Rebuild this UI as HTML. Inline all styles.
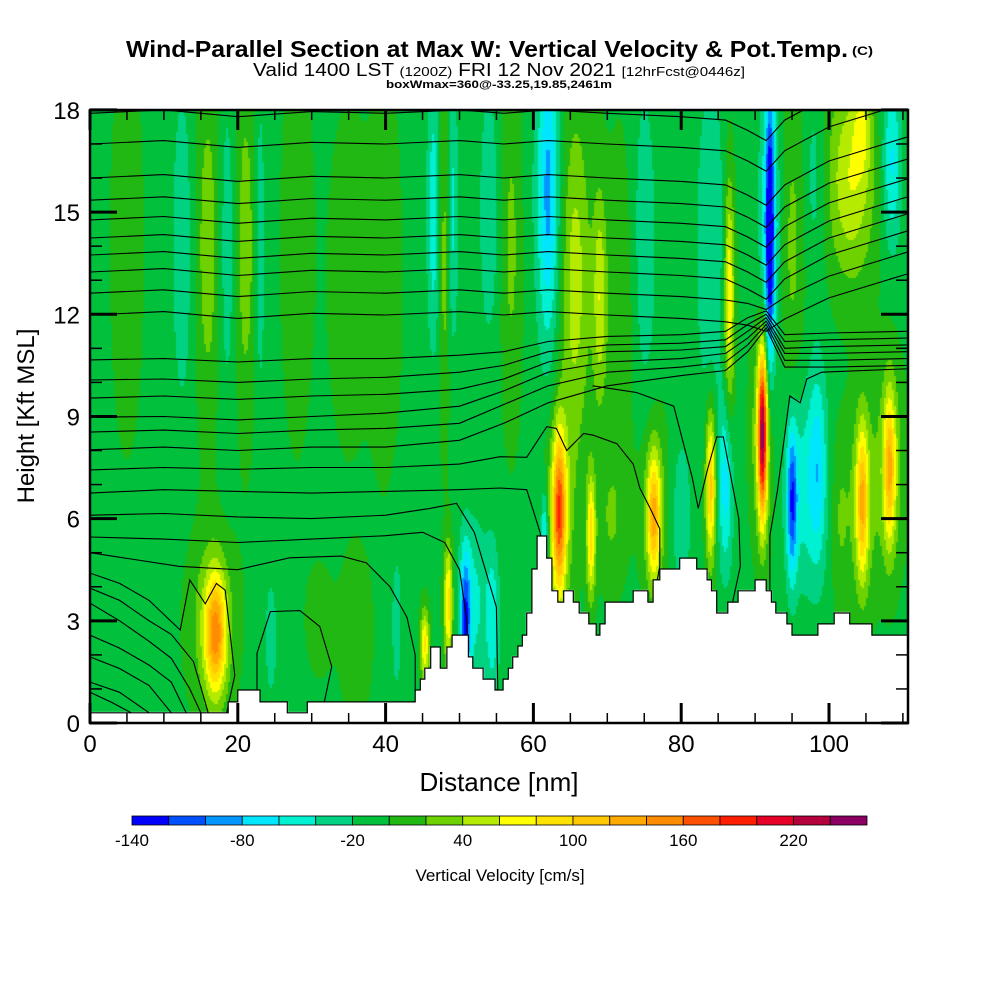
<!DOCTYPE html>
<html><head><meta charset="utf-8"><style>
html,body{margin:0;padding:0;background:#fff;}
#wrap{position:relative;width:1000px;height:1000px;overflow:hidden;font-family:"Liberation Sans",sans-serif;}
canvas{position:absolute;left:90px;top:110px;}
svg{position:absolute;left:0;top:0;}
</style></head><body>
<div id="wrap">
<canvas id="field" width="818" height="613"></canvas>
<svg id="ov" width="1000" height="1000">
<defs><clipPath id="plotclip"><rect x="90" y="110" width="818" height="613"/></clipPath></defs>
<g id="contours" clip-path="url(#plotclip)"></g>
<polygon id="terrain" fill="#fff" stroke="#000" stroke-width="1.2"></polygon>
<rect x="90" y="110" width="818" height="613" fill="none" stroke="#000" stroke-width="2.5"/>
<g id="ticks"></g>
<g id="ylabels" font-size="24" text-anchor="end"></g>
<g id="xlabels" font-size="24" text-anchor="middle"></g>
<text x="499" y="791" font-size="26" text-anchor="middle">Distance [nm]</text>
<text transform="translate(34,416) rotate(-90)" font-size="24" text-anchor="middle">Height [Kft MSL]</text>
<text x="126" y="57" font-size="23" font-weight="bold" textLength="722" lengthAdjust="spacingAndGlyphs">Wind-Parallel Section at Max W: Vertical Velocity &amp; Pot.Temp.</text>
<text x="852" y="55" font-size="12" font-weight="bold" textLength="21" lengthAdjust="spacingAndGlyphs">(C)</text>
<text x="253" y="76" font-size="18" textLength="492" lengthAdjust="spacingAndGlyphs">Valid 1400 LST <tspan font-size="13">(1200Z)</tspan> FRI 12 Nov 2021 <tspan font-size="13">[12hrFcst@0446z]</tspan></text>
<text x="386" y="88" font-size="11" font-weight="bold" textLength="226" lengthAdjust="spacingAndGlyphs">boxWmax=360@-33.25,19.85,2461m</text>
<g id="cbar"></g>
<g id="cblabels" font-size="17" text-anchor="middle"></g>
<text x="500" y="881" font-size="17" text-anchor="middle">Vertical Velocity [cm/s]</text>
</svg>
</div>
<script>
// ---- data ----
const colorBins = ["#0000ff","#0050ff","#0096ff","#00e6ff","#00f0d2","#00d282","#00c03c","#22b814","#6ed200","#b4eb00","#ffff00","#ffe100","#ffc800","#ffaa00","#ff8c00","#ff5000","#ff1e00","#e60028","#b4003c","#8c0064"];
const cbarLabels = [-140,-80,-20,40,100,160,220];
const yTicks = [0,3,6,9,12,15,18];
const xTicks = [0,20,40,60,80,100];
const baseW = -5;
// blobs: x nm, height kft, x-scale nm, y-scale kft, amplitude cm/s
const blobX = [5,12.5,16,18.5,21,23,28,35,40,46.5,49,48,54,62,62,57,65.5,69,75,84,86.5,92,92,95,103,104.5,108.5,98,66,72,
  17,16.5,24.5,31,36,41.5,45.3,48.5,50.8,52,54.5,63.5,63.5,61.5,67.8,70.5,76.3,76.3,80,84,86,91,91,95,96.5,98.5,104.5,104.5,108.2,108.2,101.5];
const blobY = [14,14,14,14,14,14,14,13,13,15,15,14,15,15.5,15.5,14,13,12.5,14,14,12.5,14.5,14.5,14,16,17.5,16.5,16,13,12,
  2.6,3,2.5,3,2.5,3,2.3,3.5,3.0,3.5,3,6.2,6,5.5,5.5,6,6,6.5,6,7,7,8.5,8.5,6.5,7,7.5,6.5,6.5,7.5,7.5,6];
const blobSX = [2.2,1.5,1.7,1.3,1.4,0.7,2.2,2.8,2.2,0.9,0.8,0.8,1.4,1.3,2.3,1.4,1.7,0.9,1.7,2.0,0.7,0.6,1.5,1.7,3.2,1.1,1.3,1.4,3,2,
  1.4,3,0.8,2.2,2.2,0.8,0.6,0.6,0.7,2,0.9,0.9,2,0.5,0.6,1.8,0.9,1.9,1.4,0.7,1.0,0.6,1.4,0.7,2.6,1.2,0.8,1.9,0.8,1.9,1.2];
const blobSY = [6,5,5,5,5,5,6,5,6,4,4,5,4,4.5,4.5,5,5,3,5,5,3.5,4,4.5,5,3,1.3,2.5,3,5,5,
  1.7,2.5,1.8,2,2.5,2.5,1,1.7,2.0,2.5,2.2,2.3,3,1.3,1.8,2,1.8,2.5,2.5,2.2,2.5,2.4,3,2.2,3,3,2.2,3,2.2,3,2.5];
const blobAmp = [15,-30,38,-30,38,-30,15,15,15,-50,-45,40,-30,-60,-25,30,35,55,-30,-35,85,-120,-50,30,65,40,-60,-25,22,20,
  125,40,-30,10,15,-25,90,95,-100,-40,-45,150,40,-70,95,25,105,35,-30,115,-65,200,60,-95,-45,-50,95,40,95,40,25];
// terrain steps: start distance nm, height kft
const terrainX = [0,18.7,20.0,23.0,26.7,29.4,44.0,44.7,45.3,46.1,47.4,48.3,49.0,51.2,51.8,53.2,54.8,55.9,56.6,57.2,57.9,58.5,59.1,59.8,60.5,61.8,62.5,63.3,64.1,65.4,66.2,67.5,68.5,69.0,69.7,73.5,75.5,76.2,77.1,79.8,82.1,83.5,84.1,84.8,86.3,87.7,90.0,91.5,92.2,92.8,94.3,95.0,98.5,100.7,102.8,105.8];
const terrainH = [0.30,0.62,0.97,0.62,0.30,0.62,0.97,1.29,1.61,2.23,1.61,2.23,2.58,1.94,1.61,1.29,0.97,1.29,1.61,1.94,2.26,2.58,3.23,4.52,5.49,4.84,3.88,3.55,3.88,3.55,3.23,2.91,2.58,2.91,3.55,3.88,3.55,4.20,4.52,4.84,4.52,4.20,3.88,3.23,3.55,3.88,4.20,3.88,3.55,3.23,2.91,2.58,2.91,3.23,2.91,2.58];
// theta contours
const knotX = [0,10,20,30,40,50,56,62,70,80,86,89,91.5,94,100,110.5];
const upperBase = [17.9,17.0,16.0,15.35,14.77,14.24,13.74,13.24,12.62,11.98];
const upperWave = [0,0.1,-0.1,0.05,0,0.1,0,0.1,0,-0.1,-0.2,-0.5,-0.8,-0.2,0.5,1.2];
const midLine1 = [10.66,10.7,10.6,10.7,10.7,10.8,10.9,11.2,11.35,11.4,11.5,11.9,12.1,11.4,11.45,11.5];
const midLine2 = [10.07,10.1,10.0,10.1,10.15,10.3,10.5,10.9,11.1,11.15,11.25,11.7,12.0,11.2,11.25,11.3];
const midLine3 = [9.54,9.6,9.5,9.6,9.65,9.8,10.1,10.6,10.9,10.95,11.05,11.5,11.9,11.0,11.05,11.1];
const midLine4 = [8.98,9.0,8.9,9.0,9.1,9.3,9.75,10.3,10.6,10.7,10.85,11.3,11.8,10.85,10.85,10.9];
const midLine5 = [8.54,8.6,8.5,8.6,8.65,8.8,9.35,9.9,10.3,10.45,10.6,11.1,11.7,10.65,10.65,10.7];
const midLine6 = [8.02,8.1,8.0,8.1,8.1,8.3,8.8,9.4,9.9,10.2,10.35,10.9,11.6,10.45,10.45,10.5];
const freeLines = [
 [[0,7.43],[10,7.5],[20,7.45],[30,7.5],[40,7.5],[50,7.6],[55.5,7.82],[59.1,7.8],[61.8,8.7],[63.1,8.65],[64.5,8.0],[66.8,8.5],[68.1,8.45],[71.3,8.2],[73.5,7.6],[74.4,6.9],[75.8,6.3],[77.1,5.7],[77.1,4.6],[76.5,3.9]],
 [[0,6.75],[10,6.85],[20,6.8],[30,6.75],[40,6.8],[50,6.85],[55.5,6.9],[59.1,6.85],[60.9,5.6],[61.5,4.5]],
 [[0,6.1],[10,6.15],[20,6.05],[30,6.0],[40,6.1],[46,6.3],[49.6,6.45],[52,5.6],[55,3.4],[55.2,0.8]],
 [[0,5.46],[10,5.4],[20,5.3],[30,5.4],[40,5.5],[45,5.6],[48,5.3],[50,4.5],[51,3.0],[51.2,1.5]],
 [[0,5.0],[6,4.8],[12,4.6],[20,4.5],[27,4.85],[34,4.9],[37.4,4.7],[40.6,4.0],[42.9,3.1],[44,2.0],[44,0.9]],
 [[0,4.4],[4,4.1],[8,3.6],[12.2,2.73],[13.5,4.2],[15.6,3.5],[17.1,4.1],[18.3,3.9],[19.6,1.4],[18.5,0.3]],
 [[0,3.96],[4,3.6],[8,3.0],[11,2.6],[14,1.8],[16,0.3]],
 [[0,3.52],[4,3.0],[8,2.4],[11,1.9],[13.5,1.0],[15,0.3]],
 [[0,2.58],[4,2.2],[8,1.7],[11,1.2],[13,0.3]],
 [[0,1.94],[4,1.6],[8,1.1],[11,0.3]],
 [[0,1.2],[4,0.9],[8,0.3]],
 [[0,0.9],[3,0.6],[6,0.25]],
 [[22.6,0.3],[22.6,2.05],[24.4,3.27],[28.4,3.3],[31.1,2.83],[32.7,1.66],[31.6,0.5]],
 [[68,9.9],[74,9.7],[79,9.3],[81.5,7.2],[82.3,6.3],[83.5,7.4],[84.8,8.4],[85.7,8.4],[87.8,6.0],[88,4.6],[86.8,3.4]],
 [[92,3.9],[92,5.5],[93,6.8],[94.7,9.6],[96.1,9.4],[97,10.1],[99,10.3],[110.5,10.4]]
];
// ---- axes ----
const X0=90, PX=7.39, Y0=723, PY=34.06;
function xs(nm){return X0+nm*PX;}
function ys(k){return Y0-k*PY;}
function terrainAt(nm){let h=terrainH[0];for(let i=0;i<terrainX.length;i++){if(nm>=terrainX[i])h=terrainH[i];else break;}return h;}
function wAt(nm,k){let v=baseW;for(let i=0;i<blobX.length;i++){const dx=(nm-blobX[i])/blobSX[i],dy=(k-blobY[i])/blobSY[i];const e=dx*dx+dy*dy;if(e<16)v+=blobAmp[i]*Math.exp(-e);}return v;}
function colorIdx(v){let i=Math.floor((v+140)/20);return Math.max(0,Math.min(19,i));}
const NS="http://www.w3.org/2000/svg";
// field
(function(){
 const c=document.getElementById('field'),ctx=c.getContext('2d');
 ctx.fillStyle='#fff';ctx.fillRect(0,0,818,613);
 for(let px=0;px<818;px+=2){const nm=(px+1)/PX;const th=terrainAt(nm);
  for(let py=0;py<613;py+=2){const k=(613-py-1)/PY;if(k<th)continue;
   ctx.fillStyle=colorBins[colorIdx(wAt(nm,k))];ctx.fillRect(px,py,2,2);}}
})();
// contours
(function(){
 const g=document.getElementById('contours');
 function add(pts,name){const p=document.createElementNS(NS,'polyline');
  p.setAttribute('points',pts.map(q=>xs(q[0]).toFixed(1)+','+ys(q[1]).toFixed(1)).join(' '));
  p.setAttribute('fill','none');p.setAttribute('stroke','#000');p.setAttribute('stroke-width','1.1');
  
  
  g.appendChild(p);}
 upperBase.forEach((b,i)=>{const sc=i>=8?0.6:1;add(knotX.map((x,j)=>[x,b+upperWave[j]*(j>=11&&j<=13?sc:1)]),'theta-contour-upper-'+i);});
 [midLine1,midLine2,midLine3,midLine4,midLine5,midLine6].forEach((m,i)=>add(knotX.map((x,j)=>[x,m[j]]),'theta-contour-mid-'+i));
 freeLines.forEach((l,i)=>add(l,'theta-contour-low-'+i));
})();
// terrain polygon
(function(){
 const pts=[[xs(0),Y0]];
 for(let i=0;i<terrainX.length;i++){const x0=xs(terrainX[i]),x1=i+1<terrainX.length?xs(terrainX[i+1]):908;const y=ys(terrainH[i]);pts.push([x0,y]);pts.push([x1,y]);}
 pts.push([908,Y0]);
 document.getElementById('terrain').setAttribute('points',pts.map(p=>p[0].toFixed(1)+','+p[1].toFixed(1)).join(' '));
})();
// ticks
(function(){
 const g=document.getElementById('ticks');
 function ln(x1,y1,x2,y2,w,name){const l=document.createElementNS(NS,'line');l.setAttribute('x1',x1);l.setAttribute('y1',y1);l.setAttribute('x2',x2);l.setAttribute('y2',y2);l.setAttribute('stroke','#000');l.setAttribute('stroke-width',w);
  
  
  g.appendChild(l);}
 for(let k=0;k<=18;k++){const y=ys(k),maj=k%3===0,L=maj?27:12,w=maj?3:1.5;ln(90,y,90+L,y,w,'y-tick');ln(908,y,908-L,y,w,'y-tick-right');}
 for(let n=0;n<=110;n+=5){const x=xs(n),maj=n%20===0,L=maj?20:10,w=maj?3:1.5;ln(x,723,x,723-L,w,'x-tick');ln(x,110,x,110+L,w,'x-tick-top');}
 const yl=document.getElementById('ylabels');
 yTicks.forEach(v=>{const t=document.createElementNS(NS,'text');t.setAttribute('x',80);t.setAttribute('y',ys(v)+9);t.textContent=v;
  
  
  yl.appendChild(t);});
 const xl=document.getElementById('xlabels');
 xTicks.forEach(v=>{const t=document.createElementNS(NS,'text');t.setAttribute('x',xs(v));t.setAttribute('y',752);t.textContent=v;
  
  
  xl.appendChild(t);});
})();
// colorbar
(function(){
 const g=document.getElementById('cbar'),x0=132,x1=867,w=(x1-x0)/colorBins.length;
 colorBins.forEach((c,i)=>{const r=document.createElementNS(NS,'rect');r.setAttribute('x',x0+i*w);r.setAttribute('y',816);r.setAttribute('width',w);r.setAttribute('height',9);r.setAttribute('fill',c);r.setAttribute('stroke','#000');r.setAttribute('stroke-width','0.8');
  
  
  g.appendChild(r);});
 const gl=document.getElementById('cblabels');
 cbarLabels.forEach(v=>{const t=document.createElementNS(NS,'text');t.setAttribute('x',x0+(v+140)/20*w);t.setAttribute('y',846);t.textContent=v;
  
  
  gl.appendChild(t);});
})();
</script>
</body></html>
